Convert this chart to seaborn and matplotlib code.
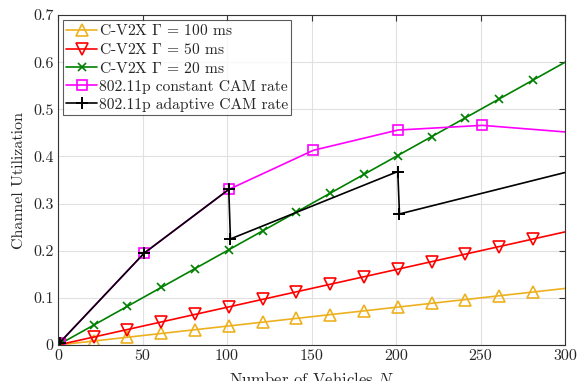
import matplotlib
matplotlib.use("Agg")
import matplotlib.pyplot as plt
import seaborn as sns
import numpy as np

# ---- data ----
n_cv2x = [1, 21, 41, 61, 81, 101, 121, 141, 161, 181, 201, 221, 241, 261, 281, 300]
u_100 = [0.0004, 0.0084, 0.0164, 0.0244, 0.0324, 0.0404, 0.0484, 0.0564, 0.0644, 0.0724,
         0.0804, 0.0884, 0.0964, 0.1044, 0.1124, 0.12]
u_50 = [0.0008, 0.0168, 0.0328, 0.0488, 0.0648, 0.0808, 0.0968, 0.1128, 0.1288, 0.1448,
        0.1608, 0.1768, 0.1928, 0.2088, 0.2248, 0.24]
u_20 = [0.002, 0.042, 0.082, 0.122, 0.162, 0.202, 0.242, 0.282, 0.322, 0.362,
        0.402, 0.442, 0.482, 0.522, 0.562, 0.60]
n_const = [1, 51, 101, 151, 201, 251, 300]
u_const = [0.005, 0.195, 0.330, 0.413, 0.456, 0.466, 0.452]
n_adapt = [1, 51, 101, 102, 201, 202, 300]
u_adapt = [0.005, 0.195, 0.330, 0.225, 0.368, 0.278, 0.366]

labels = [r"C-V2X $\Gamma$ = 100 ms", r"C-V2X $\Gamma$ = 50 ms", r"C-V2X $\Gamma$ = 20 ms",
          "802.11p constant CAM rate", "802.11p adaptive CAM rate"]

sns.set_style("white")
plt.rcParams["font.family"] = ["cmr10", "DejaVu Serif"]
plt.rcParams["mathtext.fontset"] = "cm"
plt.rcParams["axes.unicode_minus"] = False
plt.rcParams["axes.formatter.use_mathtext"] = True

fig = plt.figure(figsize=(5.82, 3.81), dpi=100)
ax = fig.add_axes([0.0997, 0.0945, 0.8713, 0.866])

orange = "#EDB120"
kw = dict(ax=ax, estimator=None, sort=False, linewidth=1.2, markerfacecolor="none")
sns.lineplot(x=n_cv2x, y=u_100, color=orange, marker="^", markersize=9,
             markeredgecolor=orange, markeredgewidth=1.2, markevery=list(range(15)),
             label=labels[0], **kw)
sns.lineplot(x=n_cv2x, y=u_50, color="red", marker="v", markersize=9,
             markeredgecolor="red", markeredgewidth=1.2, markevery=list(range(15)),
             label=labels[1], **kw)
sns.lineplot(x=n_cv2x, y=u_20, color="green", marker="x", markersize=6,
             markeredgecolor="green", markeredgewidth=1.2, markevery=list(range(15)),
             label=labels[2], **kw)
sns.lineplot(x=n_const, y=u_const, color="magenta", marker="s", markersize=7,
             markeredgecolor="magenta", markeredgewidth=1.2, markevery=list(range(6)),
             label=labels[3], **kw)
sns.lineplot(x=n_adapt, y=u_adapt, color="black", marker="+", markersize=9,
             markeredgecolor="black", markeredgewidth=1.4, markevery=list(range(6)),
             label=labels[4], **kw)

ax.set_xlim(0, 300)
ax.set_ylim(0, 0.7)
ax.set_xticks([0, 50, 100, 150, 200, 250, 300])
ax.set_xticklabels(["0", "50", "100", "150", "200", "250", "300"])
ax.set_yticks([0, 0.1, 0.2, 0.3, 0.4, 0.5, 0.6, 0.7])
ax.set_yticklabels(["0", "0.1", "0.2", "0.3", "0.4", "0.5", "0.6", "0.7"])
ax.grid(True, color="#e0e0e0", linewidth=0.8)
ax.set_axisbelow(True)
ax.tick_params(direction="in", top=True, right=True, labelsize=11.5, length=4,
               color="#333333", pad=3)
for s in ax.spines.values():
    s.set_color("#333333")
    s.set_linewidth(0.8)
ax.set_xlabel(r"Number of Vehicles $N$", fontsize=12, labelpad=6)
ax.set_ylabel("Channel Utilization", fontsize=11.5, labelpad=5)

leg = ax.legend(loc="upper left", fontsize=11.2, frameon=True, fancybox=False,
                edgecolor="#333333", borderpad=0.22, labelspacing=0.25,
                handlelength=2.0, handletextpad=0.1, borderaxespad=0.3)
leg.get_frame().set_linewidth(0.8)

fig.savefig("out.png", dpi=100)
